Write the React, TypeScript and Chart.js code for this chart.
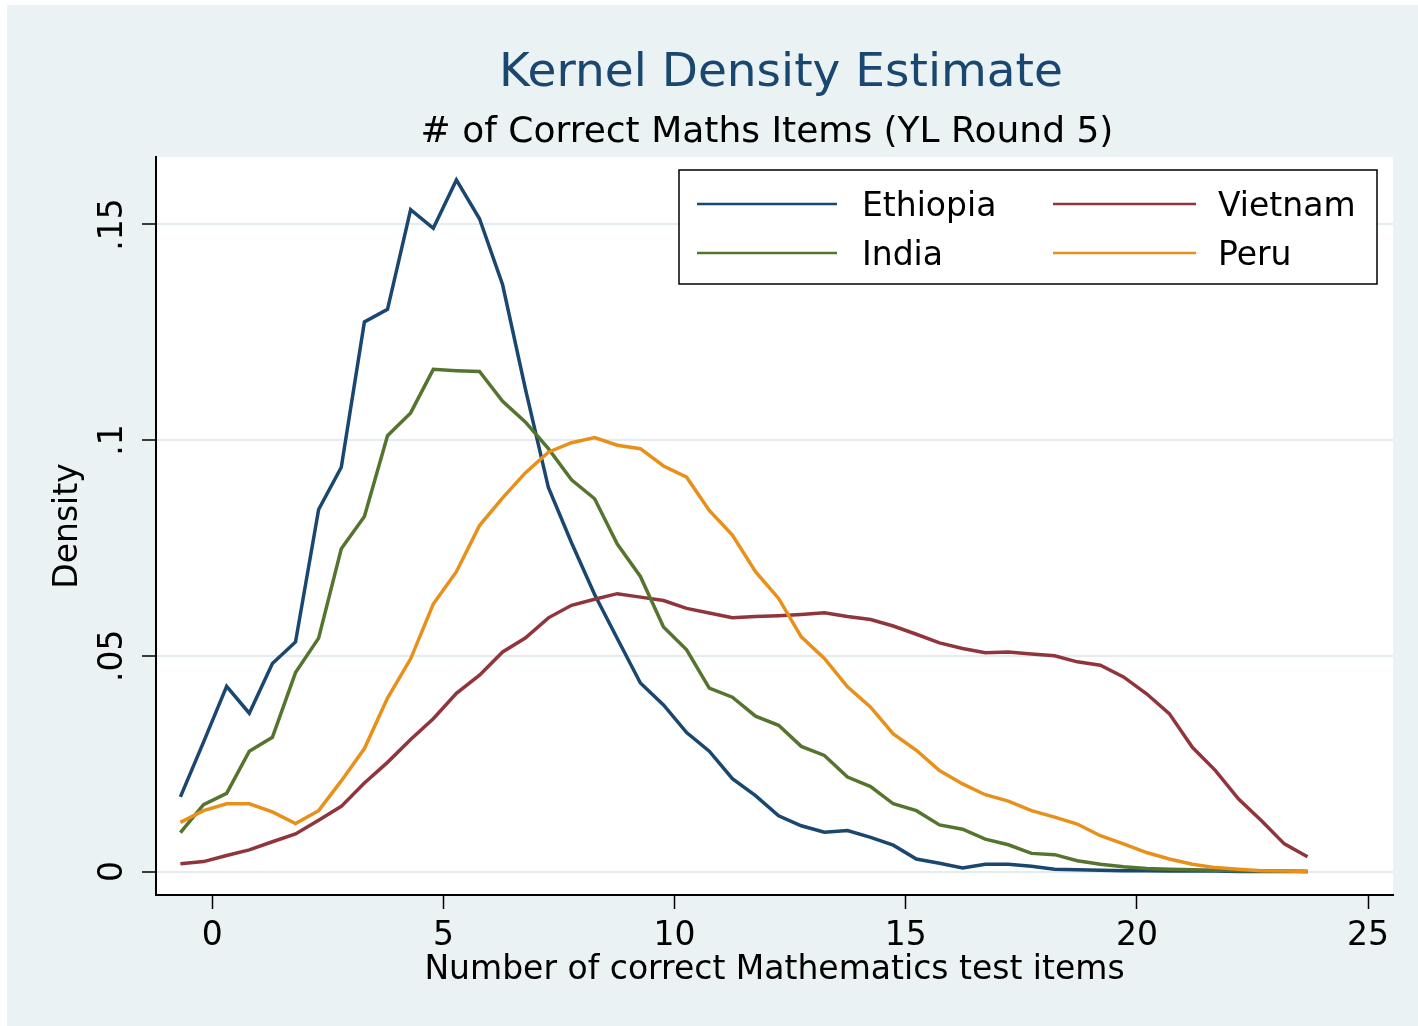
import React, { useEffect, useRef } from "react";
import { Chart, registerables } from "chart.js";

Chart.register(...registerables);

// Evaluation points (x) of the kernel density estimates
const xPoints = [
  -0.69, -0.19, 0.31, 0.8, 1.3, 1.8, 2.3, 2.79, 3.29, 3.79,
  4.29, 4.78, 5.28, 5.78, 6.28, 6.77, 7.27, 7.77, 8.27, 8.76,
  9.26, 9.76, 10.26, 10.75, 11.25, 11.75, 12.25, 12.74, 13.24, 13.74,
  14.24, 14.73, 15.23, 15.73, 16.23, 16.72, 17.22, 17.72, 18.22, 18.71,
  19.21, 19.71, 20.21, 20.7, 21.2, 21.7, 22.2, 22.69, 23.19, 23.69,
];

const ethiopia = [
  0.0173, 0.03, 0.0429, 0.0367, 0.0482, 0.0532, 0.0839, 0.0937, 0.1274, 0.1303,
  0.1534, 0.1491, 0.1603, 0.1513, 0.136, 0.112, 0.089, 0.0762, 0.0642, 0.054,
  0.0437, 0.0386, 0.0322, 0.0279, 0.0215, 0.0176, 0.0129, 0.0106, 0.0091, 0.0095,
  0.0079, 0.0061, 0.0029, 0.0019, 0.0008, 0.0017, 0.0017, 0.0012, 0.0005, 0.0004,
  0.0003, 0.0002, 0.0002, 0.0001, 0.0001, 0.0001, 0.0, 0.0, 0.0, 0.0,
];

const vietnam = [
  0.0018, 0.0023, 0.0037, 0.005, 0.0069, 0.0087, 0.0119, 0.0151, 0.0205, 0.0253,
  0.0306, 0.0354, 0.0413, 0.0455, 0.0509, 0.0541, 0.0588, 0.0617, 0.0631, 0.0644,
  0.0636, 0.0628, 0.061, 0.0599, 0.0588, 0.0591, 0.0593, 0.0596, 0.06, 0.0591,
  0.0584, 0.0569, 0.055, 0.053, 0.0517, 0.0507, 0.0509, 0.0504, 0.05, 0.0486,
  0.0478, 0.0451, 0.0412, 0.0366, 0.0288, 0.0234, 0.0168, 0.0118, 0.0064, 0.0034,
];

const india = [
  0.009, 0.0155, 0.0181, 0.0279, 0.0311, 0.0461, 0.0541, 0.0748, 0.0823, 0.101,
  0.1063, 0.1164, 0.1161, 0.1159, 0.109, 0.1042, 0.098, 0.0908, 0.0864, 0.0759,
  0.0684, 0.0567, 0.0514, 0.0425, 0.0404, 0.036, 0.0339, 0.029, 0.0269, 0.0219,
  0.0197, 0.0157, 0.0141, 0.0108, 0.0098, 0.0075, 0.0062, 0.0042, 0.0039, 0.0025,
  0.0017, 0.0011, 0.0007, 0.0005, 0.0004, 0.0003, 0.0002, 0.0001, 0.0001, 0.0,
];

const peru = [
  0.0114, 0.0141, 0.0157, 0.0157, 0.0138, 0.0111, 0.0141, 0.021, 0.0285, 0.0402,
  0.0493, 0.062, 0.0695, 0.0802, 0.0866, 0.0924, 0.0972, 0.0994, 0.1006, 0.0988,
  0.098, 0.094, 0.0914, 0.0837, 0.078, 0.0695, 0.0633, 0.0544, 0.0494, 0.0428,
  0.0381, 0.0319, 0.0281, 0.0234, 0.0203, 0.0178, 0.0163, 0.0141, 0.0126, 0.011,
  0.0083, 0.0064, 0.0044, 0.0029, 0.0017, 0.0009, 0.0005, 0.0002, 0.0001, 0.0,
];

const seriesLabels = ["Ethiopia", "Vietnam", "India", "Peru"];
const seriesColors = ["#1A476F", "#90353B", "#55752F", "#E8901A"];

const xTickValues = [0, 5, 10, 15, 20, 25];
const xTickLabels = ["0", "5", "10", "15", "20", "25"];
const yTickValues = [0, 0.05, 0.1, 0.15];
const yTickLabels = ["0", ".05", ".1", ".15"];

const titleText = "Kernel Density Estimate";
const subtitleText = "# of Correct Maths Items (YL Round 5)";
const xTitleText = "Number of correct Mathematics test items";
const yTitleText = "Density";

const W = 1411;
const H = 1021;
const FONT = "'DejaVu Sans', 'Liberation Sans', sans-serif";

export default function App() {
  const ref = useRef<HTMLCanvasElement>(null);

  useEffect(() => {
    const canvas = ref.current;
    if (!canvas) return;
    const series = [ethiopia, vietnam, india, peru];
    const datasets = series.map((vals, k) => ({
      label: seriesLabels[k],
      data: vals.map((y, i) => ({ x: xPoints[i], y })),
      borderColor: seriesColors[k],
      backgroundColor: seriesColors[k],
      borderWidth: 3.5,
      pointRadius: 0,
      pointHoverRadius: 0,
      tension: 0,
      fill: false,
      order: 4 - k,
    }));

    const bgPlugin = {
      id: "bgPlugin",
      beforeDraw(chart: any) {
        const { ctx, chartArea } = chart;
        ctx.save();
        ctx.fillStyle = "#EAF2F3";
        ctx.fillRect(0, 0, chart.width, chart.height);
        ctx.fillStyle = "#FFFFFF";
        ctx.fillRect(
          chartArea.left,
          chartArea.top,
          chartArea.right - chartArea.left,
          chartArea.bottom - chartArea.top
        );
        ctx.restore();
      },
    };

    const decorPlugin = {
      id: "decorPlugin",
      afterDraw(chart: any) {
        const ctx = chart.ctx;
        ctx.save();
        ctx.textAlign = "center";
        ctx.textBaseline = "alphabetic";
        ctx.fillStyle = "#1A476F";
        ctx.font = `47px ${FONT}`;
        ctx.fillText(titleText, 774, 81);
        ctx.fillStyle = "#000000";
        ctx.font = `36px ${FONT}`;
        ctx.fillText(subtitleText, 760, 137);

        // legend
        const bx = 672, by = 165, bw = 698, bh = 114;
        ctx.fillStyle = "#FFFFFF";
        ctx.fillRect(bx, by, bw, bh);
        ctx.strokeStyle = "#000000";
        ctx.lineWidth = 1.5;
        ctx.strokeRect(bx, by, bw, bh);
        const cols = [
          { lx0: 690, lx1: 830, tx: 855 },
          { lx0: 1046, lx1: 1189, tx: 1211 },
        ];
        const rows = [199, 248];
        ctx.font = `33px ${FONT}`;
        ctx.textAlign = "left";
        ctx.textBaseline = "middle";
        chart.data.datasets.forEach((ds: any, k: number) => {
          const c = cols[k % 2];
          const r = rows[Math.floor(k / 2)];
          ctx.strokeStyle = ds.borderColor;
          ctx.lineWidth = 2.5;
          ctx.beginPath();
          ctx.moveTo(c.lx0, r);
          ctx.lineTo(c.lx1, r);
          ctx.stroke();
          ctx.fillStyle = "#000000";
          ctx.fillText(ds.label, c.tx, r + 3);
        });
        ctx.restore();
      },
    };

    const chart = new Chart(canvas, {
      type: "line",
      data: { datasets } as any,
      options: {
        animation: false,
        responsive: false,
        maintainAspectRatio: false,
        layout: { padding: { left: 0, top: 152, right: 25, bottom: 0 } },
        plugins: {
          legend: { display: false },
          title: { display: false },
          tooltip: { enabled: false },
        },
        scales: {
          x: {
            type: "linear",
            min: -1.218,
            max: 25.54,
            afterBuildTicks: (s: any) => {
              s.ticks = xTickValues.map((v) => ({ value: v }));
            },
            afterFit: (s: any) => {
              s.height = H - 890;
              s.paddingLeft = 0;
              s.paddingRight = 0;
            },
            ticks: {
              autoSkip: false,
              minRotation: 0,
              maxRotation: 0,
              padding: 8,
              color: "#000000",
              font: { family: FONT, size: 33 },
              callback: (_v: any, i: number) => xTickLabels[i],
            },
            grid: {
              display: true,
              drawOnChartArea: false,
              drawTicks: true,
              tickLength: 14,
              tickColor: "#000000",
              tickWidth: 1.5,
            },
            border: { display: true, color: "#000000", width: 2 },
            title: {
              display: true,
              text: xTitleText,
              color: "#000000",
              font: { family: FONT, size: 33 },
              padding: { top: 0, bottom: 36 },
            },
          },
          y: {
            type: "linear",
            min: -0.005447,
            max: 0.16562,
            afterBuildTicks: (s: any) => {
              s.ticks = yTickValues.map((v) => ({ value: v }));
            },
            afterFit: (s: any) => {
              s.width = 149;
              s.paddingTop = 0;
              s.paddingBottom = 0;
            },
            ticks: {
              autoSkip: false,
              minRotation: 90,
              maxRotation: 90,
              crossAlign: "center",
              padding: 2,
              color: "#000000",
              font: { family: FONT, size: 33 },
              callback: (_v: any, i: number) => yTickLabels[i],
            },
            grid: {
              display: true,
              drawOnChartArea: true,
              color: "#E4ECEE",
              lineWidth: 2,
              drawTicks: true,
              tickLength: 14,
              tickColor: "#000000",
              tickWidth: 1.5,
            },
            border: { display: true, color: "#000000", width: 2 },
            title: {
              display: true,
              text: yTitleText,
              color: "#000000",
              font: { family: FONT, size: 33 },
              padding: { top: 42, bottom: 0 },
            },
          },
        },
      } as any,
      plugins: [bgPlugin, decorPlugin],
    });

    return () => {
      chart.destroy();
    };
  }, []);

  return (
    <canvas
      ref={ref}
      width={W}
      height={H}
      style={{ position: "absolute", left: 7, top: 5, width: W, height: H, display: "block" }}
    />
  );
}
